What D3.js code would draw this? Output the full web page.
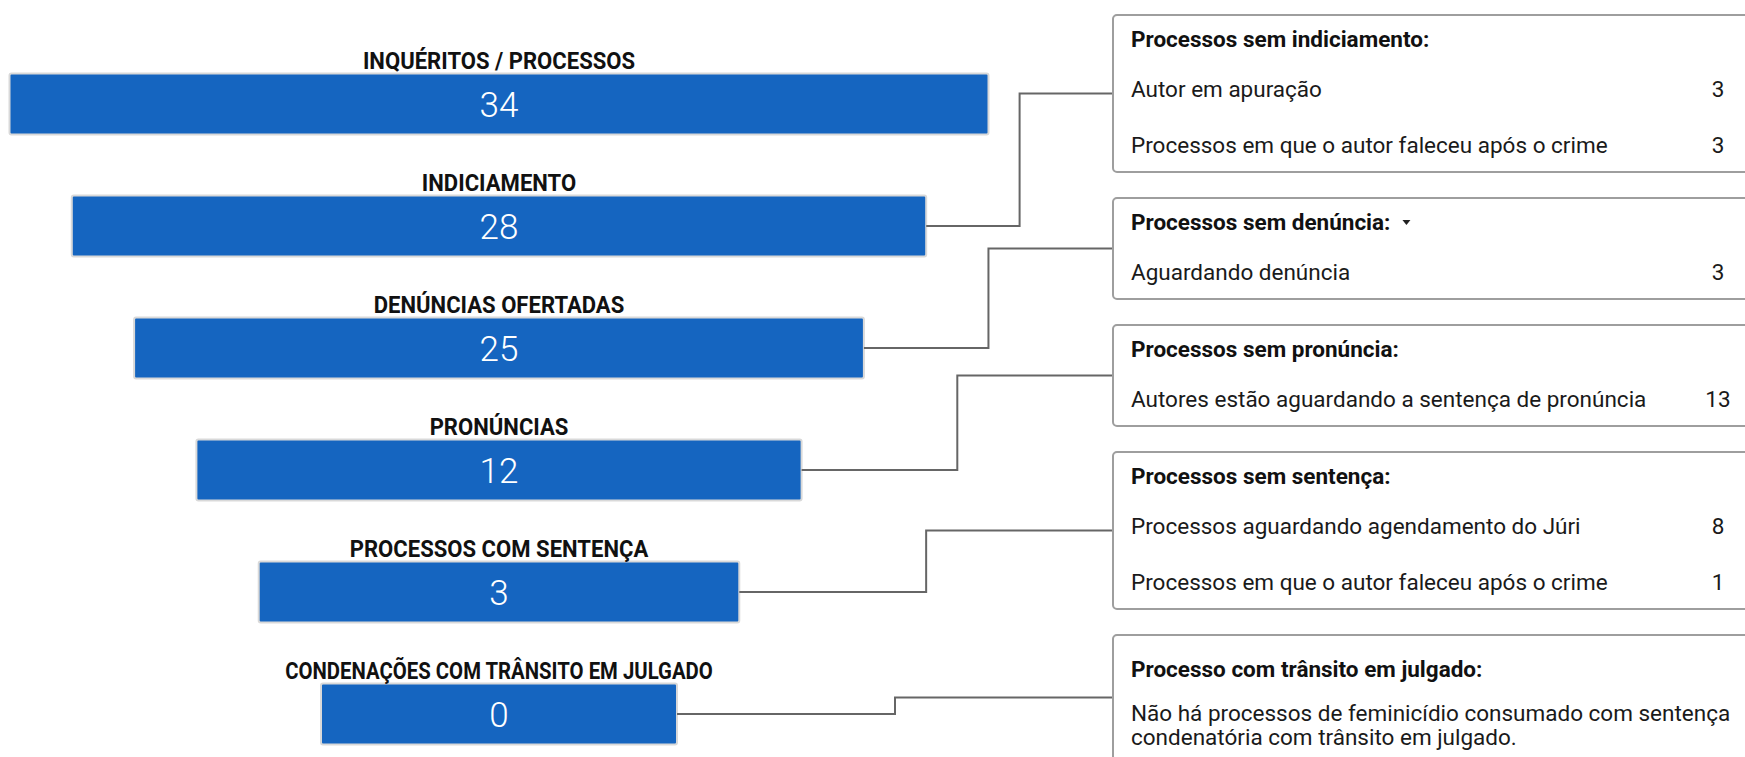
<!DOCTYPE html>
<html>
<head>
<meta charset="utf-8">
<script src="https://cdn.jsdelivr.net/npm/d3@7"></script>
<style>
body { margin: 0; background: #fff; overflow: hidden; }
svg { display: block; font-family: Roboto, sans-serif; }
</style>
</head>
<body>
<script>
'use strict';

// funnel stages
let stages = ['INQUÉRITOS / PROCESSOS', 'INDICIAMENTO', 'DENÚNCIAS OFERTADAS', 'PRONÚNCIAS',
    'PROCESSOS COM SENTENÇA', 'CONDENAÇÕES COM TRÂNSITO EM JULGADO'];
let stageValues = [34, 28, 25, 12, 3, 0];

// side notes, each hanging off one stage
let noteStage = [1, 2, 3, 4, 5];
let noteTitles = ['Processos sem indiciamento:', 'Processos sem denúncia:', 'Processos sem pronúncia:',
    'Processos sem sentença:', 'Processo com trânsito em julgado:'];
let noteLabels = [
    ['Autor em apuração', 'Processos em que o autor faleceu após o crime'],
    ['Aguardando denúncia'],
    ['Autores estão aguardando a sentença de pronúncia'],
    ['Processos aguardando agendamento do Júri', 'Processos em que o autor faleceu após o crime'],
    ['Não há processos de feminicídio consumado com sentença condenatória com trânsito em julgado.']
];
let noteValues = [[3, 3], [3], [13], [8, 1], [null]];

let w = 1745, h = 757;
let cx = 499, barH = 61;

let svg = d3.select('body')
    .append('svg')
    .attr('width', w)
    .attr('height', h);

let y = d3.scalePoint()
    .domain(stages)
    .range([104, 714]);

// funnel narrows step by step
let width = d3.scaleLinear()
    .domain([0, stages.length - 1])
    .range([979, 356]);

let rows = stages.map((s, i) => ({ name: s, value: stageValues[i], i: i }));

let bars = svg.selectAll('g.stage')
    .data(rows)
    .enter()
    .append('g')
    .attr('class', 'stage');

bars.append('rect')
    .attr('x', d => cx - width(d.i) / 2)
    .attr('y', d => y(d.name) - barH / 2)
    .attr('width', d => width(d.i))
    .attr('height', barH)
    .attr('rx', 2)
    .attr('fill', '#1565c0')
    .attr('stroke', '#d9d9d9')
    .attr('stroke-width', 2);

bars.append('text')
    .text(d => d.value)
    .attr('x', cx)
    .attr('y', d => y(d.name))
    .attr('dy', '0.36em')
    .attr('text-anchor', 'middle')
    .attr('font-size', '35px')
    .attr('font-weight', 300)
    .attr('fill', '#fff');

// stage names, squeezed a bit like a condensed face
let maxLabel = 428;
bars.append('text')
    .text(d => d.name)
    .attr('text-anchor', 'middle')
    .attr('font-size', '24px')
    .attr('font-weight', 700)
    .attr('fill', '#111')
    .attr('transform', function (d) {
        let k = Math.min(0.92, maxLabel / this.getComputedTextLength());
        return 'translate(' + cx + ',' + (y(d.name) - barH / 2 - 5) + ') scale(' + k + ',1)';
    });

// note boxes
let boxX = 1113, boxW = 700, gap = 26, rowH = 56, lineH = 24, padL = 18, fs = 22.5;
let boxTop = 15;
let notes = noteTitles.map((t, i) => {
    let n = { title: t, labels: noteLabels[i], values: noteValues[i], stage: noteStage[i], top: boxTop };
    n.h = 45 + n.labels.length * rowH;
    if (n.values[0] === null) n.h += lineH;
    boxTop += n.h + gap;
    return n;
});

let line = d3.line();

svg.selectAll('path.link')
    .data(notes)
    .enter()
    .append('path')
    .attr('class', 'link')
    .attr('d', n => {
        let d = rows[n.stage];
        let x0 = cx + width(d.i) / 2, y0 = y(d.name);
        let y1 = n.top + n.h / 2, mx = (x0 + boxX) / 2;
        return line([[x0, y0], [mx, y0], [mx, y1], [boxX, y1]]);
    })
    .attr('fill', 'none')
    .attr('stroke', '#666')
    .attr('stroke-width', 2);

let boxes = svg.selectAll('g.note')
    .data(notes)
    .enter()
    .append('g')
    .attr('class', 'note')
    .attr('transform', n => 'translate(' + boxX + ',' + n.top + ')');

boxes.append('rect')
    .attr('width', boxW)
    .attr('height', n => n.h)
    .attr('rx', 4)
    .attr('fill', '#fff')
    .attr('stroke', '#9e9e9e')
    .attr('stroke-width', 2);

let titles = boxes.append('text')
    .text(n => n.title)
    .attr('x', padL)
    .attr('y', n => n.values[0] === null ? 42 : 32)
    .attr('font-size', fs + 'px')
    .attr('font-weight', 700)
    .attr('fill', '#111');

// little dropdown arrow after "sem denúncia"
titles.filter((n, i) => i === 1).each(function (n) {
    let tw = this.getComputedTextLength();
    d3.select(this.parentNode).append('path')
        .attr('d', d3.line()([[padL + tw + 12, 22], [padL + tw + 20, 22], [padL + tw + 16, 27]]))
        .attr('fill', '#222');
});

boxes.each(function (n) {
    let g = d3.select(this);
    n.labels.forEach((lab, j) => {
        let t = g.append('text')
            .attr('x', padL)
            .attr('y', 82 + j * rowH)
            .attr('font-size', fs + 'px')
            .attr('fill', '#1a1a1a');
        if (n.values[j] === null) {
            // wrap long sentence
            t.attr('y', 86);
            let words = lab.split(' '), cur = [];
            let ts = t.append('tspan').attr('x', padL);
            words.forEach(wd => {
                cur.push(wd);
                ts.text(cur.join(' '));
                if (ts.node().getComputedTextLength() > 612 && cur.length > 1) {
                    cur.pop();
                    ts.text(cur.join(' '));
                    cur = [wd];
                    ts = t.append('tspan').attr('x', padL).attr('dy', lineH).text(wd);
                }
            });
        } else {
            t.text(lab);
            g.append('text')
                .text(n.values[j])
                .attr('x', 605)
                .attr('y', 82 + j * rowH)
                .attr('text-anchor', 'middle')
                .attr('font-size', fs + 'px')
                .attr('fill', '#1a1a1a');
        }
    });
});
</script>
</body>
</html>
